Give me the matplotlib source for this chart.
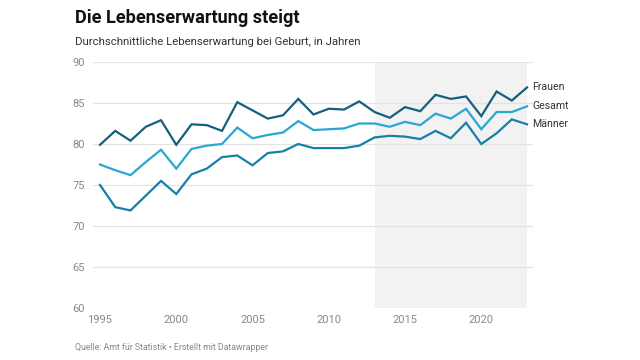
import matplotlib.pyplot as plt

plt.rcParams['font.family'] = ['Roboto', 'DejaVu Sans']

years = list(range(1995, 2024))
frauen = [79.9, 81.6, 80.4, 82.1, 82.9, 79.9, 82.4, 82.3, 81.6, 85.1,
          84.1, 83.1, 83.5, 85.5, 83.6, 84.3, 84.2, 85.2, 83.9, 83.2,
          84.5, 84.0, 86.0, 85.5, 85.8, 83.4, 86.4, 85.3, 86.9]
gesamt = [77.5, 76.8, 76.2, 77.8, 79.3, 77.0, 79.4, 79.8, 80.0, 82.0,
          80.7, 81.1, 81.4, 82.8, 81.7, 81.8, 81.9, 82.5, 82.5, 82.1,
          82.7, 82.3, 83.7, 83.1, 84.3, 81.8, 83.9, 83.9, 84.6]
maenner = [75.0, 72.3, 71.9, 73.7, 75.5, 73.9, 76.3, 77.0, 78.4, 78.6,
           77.4, 78.9, 79.1, 80.0, 79.5, 79.5, 79.5, 79.8, 80.8, 81.0,
           80.9, 80.6, 81.6, 80.7, 82.6, 80.0, 81.3, 83.0, 82.4]
series_names = ['Frauen', 'Gesamt', 'Männer']
colors = ['#15607e', '#2aa6d3', '#1580a8']
yticks = [60, 65, 70, 75, 80, 85, 90]
xticks = [1995, 2000, 2005, 2010, 2015, 2020]
shade_start, shade_end = 2013, 2023

fig = plt.figure(figsize=(6.4, 3.6), dpi=100)
ax = fig.add_axes([93 / 640, 1 - 308 / 360, 440 / 640, 246 / 360])

ax.axvspan(shade_start, shade_end, color='#f2f2f2', zorder=0, lw=0)
for y in yticks:
    ax.axhline(y, color='#e3e3e3', lw=0.9, zorder=1)

for name, vals, c in zip(series_names, [frauen, gesamt, maenner], colors):
    ax.plot(years, vals, color=c, lw=1.6, zorder=3, solid_joinstyle='miter')
    ax.annotate(name, xy=(years[-1], vals[-1]), xytext=(4, 0),
                textcoords='offset points', va='center', ha='left',
                fontsize=7.6, color='#333333', annotation_clip=False)

ax.set_xlim(1994.54, 2023.39)
ax.set_ylim(60, 90)
ax.set_yticks(yticks)
ax.set_xticks(xticks)
for s in ax.spines.values():
    s.set_visible(False)
ax.tick_params(axis='both', length=0, labelsize=8, colors='#888888')
ax.tick_params(axis='y', pad=6)
ax.tick_params(axis='x', pad=5)

fig.text(75 / 640, 1 - 18 / 360, 'Die Lebenserwartung steigt', fontsize=13.1,
         fontweight='bold', color='#111111', va='center', ha='left')
fig.text(75 / 640, 1 - 42 / 360, 'Durchschnittliche Lebenserwartung bei Geburt, in Jahren',
         fontsize=8.2, color='#333333', va='center', ha='left')
fig.text(75 / 640, 1 - 347 / 360, 'Quelle: Amt für Statistik • Erstellt mit Datawrapper',
         fontsize=6.3, color='#888888', va='center', ha='left')

fig.savefig('out.png', dpi=100)
